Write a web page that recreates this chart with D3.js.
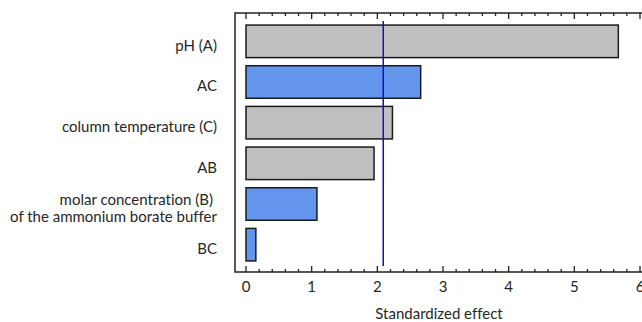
<!DOCTYPE html>
<html>
<head>
<meta charset="utf-8">
<script src="https://cdn.jsdelivr.net/npm/d3@7"></script>
<style>
  body { margin: 0; background: #fff; }
  svg { display: block; font-variant-ligatures: none; }
</style>
</head>
<body>
<div id="chart"></div>
<script>
// effects
const terms = ['pH (A)', 'AC', 'column temperature (C)', 'AB', 'molar concentration (B)|of the ammonium borate buffer', 'BC'];
const effects = [5.67, 2.66, 2.23, 1.95, 1.08, 0.15];
const positive = [false, true, false, false, true, true];
const critical = 2.09;
const xTicks = [0, 1, 2, 3, 4, 5, 6];

const width = 642, height = 322;
const frame = { left: 235, top: 13, bottom: 272 };
const font = 'Lato, "Open Sans", sans-serif';
const fontSize = 15;

const svg = d3.select('#chart').append('svg')
  .attr('width', width)
  .attr('height', height);

const x = d3.scaleLinear().domain([0, 6]).range([246, 640]);
const y = d3.scaleBand()
  .domain(terms)
  .range([21, 265])
  .paddingInner(0.2)
  .paddingOuter(0.1);

// frame lines
svg.append('path')
  .attr('d', `M${width},${frame.top}H${frame.left}V${frame.bottom}H${width}`)
  .attr('fill', 'none')
  .attr('stroke', '#222')
  .attr('stroke-width', 1.5);

// minor + major ticks on top and bottom
const minor = d3.range(0, 30).map(i => i / 5).filter(v => !xTicks.includes(v));
function ticks(sel, yy, dir) {
  sel.selectAll('line.major')
    .data(xTicks)
    .join('line')
    .attr('x1', d => x(d)).attr('x2', d => x(d))
    .attr('y1', yy).attr('y2', yy + dir * 6);
  sel.selectAll('line.minor')
    .data(minor)
    .join('line')
    .attr('class', 'minor')
    .attr('x1', d => x(d)).attr('x2', d => x(d))
    .attr('y1', yy).attr('y2', yy + dir * 3);
}
svg.append('g').attr('stroke', '#222').attr('stroke-width', 1.3).call(ticks, frame.top, 1);
svg.append('g').attr('stroke', '#222').attr('stroke-width', 1.3).call(ticks, frame.bottom, -1);

// bars
svg.append('g')
  .selectAll('rect')
  .data(terms)
  .join('rect')
  .attr('x', x(0))
  .attr('y', d => y(d))
  .attr('width', (d, i) => x(effects[i]) - x(0))
  .attr('height', y.bandwidth())
  .attr('fill', (d, i) => positive[i] ? '#6495ed' : '#c0c0c0')
  .attr('stroke', '#1a1a1a')
  .attr('stroke-width', 1.5);

// reference line
svg.append('line')
  .attr('x1', x(critical)).attr('x2', x(critical))
  .attr('y1', 21).attr('y2', 266)
  .attr('stroke', '#1010c8')
  .attr('stroke-width', 1.5);

// category labels, slightly below bar centre like the original
const labels = svg.append('g')
  .attr('font-family', font)
  .attr('font-size', fontSize)
  .attr('fill', '#262626')
  .attr('text-anchor', 'end');
terms.forEach(t => {
  const lines = t.split('|');
  const cy = y(t) + y.bandwidth() / 2 + 4;
  const txt = labels.append('text')
    .attr('y', cy - (lines.length - 1) * 8.7);
  lines.forEach((l, i) => {
    txt.append('tspan')
      .attr('x', i === 0 && lines.length > 1 ? 213 : 217)
      .attr('dy', i === 0 ? '0.35em' : 17.4)
      .text(l);
  });
});

// tick labels
svg.append('g')
  .attr('font-family', font)
  .attr('font-size', fontSize)
  .attr('fill', '#262626')
  .attr('text-anchor', 'middle')
  .selectAll('text')
  .data(xTicks)
  .join('text')
  .attr('x', d => x(d))
  .attr('y', 292)
  .text(d => d);

svg.append('text')
  .attr('x', 439)
  .attr('y', 319)
  .attr('font-family', font)
  .attr('font-size', fontSize)
  .attr('fill', '#262626')
  .attr('text-anchor', 'middle')
  .text('Standardized effect');
</script>
</body>
</html>
